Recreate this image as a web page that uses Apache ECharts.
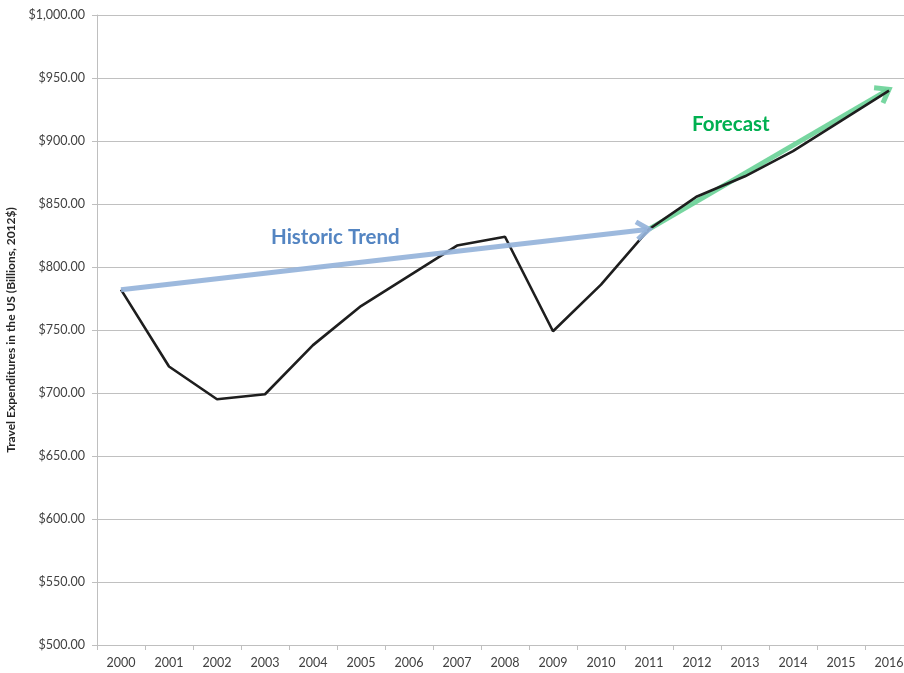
<!DOCTYPE html>
<html>
<head>
<meta charset="utf-8">
<title>Travel Expenditures in the US</title>
<script src="https://cdn.jsdelivr.net/npm/echarts@6/dist/echarts.min.js"></script>
<style>
  html, body { margin: 0; padding: 0; background: #ffffff; }
  #chart { width: 904px; height: 673px; }
</style>
</head>
<body>
<div id="chart"></div>
<script>
// Years on the category axis
const years = ['2000', '2001', '2002', '2003', '2004', '2005', '2006', '2007', '2008',
               '2009', '2010', '2011', '2012', '2013', '2014', '2015', '2016'];

// Travel expenditures, billions of 2012 dollars
const expenditures = [782, 721, 695, 699, 738, 769, 793, 817, 824,
                      749, 786, 830, 856, 872, 892, 916, 940];

// Trend arrows: start/end year and value
const historicTrendYears = ['2000', '2011'];
const historicTrendValues = [782, 830];
const forecastTrendYears = ['2011', '2016'];
const forecastTrendValues = [830, 941];

// Value axis range
const yMin = 500;
const yMax = 1000;
const yStep = 50;

const FONT = 'Lato, "Open Sans", sans-serif';

function money(v) {
  const parts = v.toFixed(2).split('.');
  parts[0] = parts[0].replace(/\B(?=(\d{3})+(?!\d))/g, ',');
  return '$' + parts.join('.');
}

function arrowData(ys, vs) {
  return [[years.indexOf(ys[0]), vs[0], years.indexOf(ys[1]), vs[1]]];
}

// Straight shaft with an open chevron head at the end point
function renderArrow(color) {
  return function (params, api) {
    const p0 = api.coord([api.value(0), api.value(1)]);
    const p1 = api.coord([api.value(2), api.value(3)]);
    const ang = Math.atan2(p1[1] - p0[1], p1[0] - p0[0]);
    const len = 15, spread = Math.PI / 5;
    const a = [p1[0] - len * Math.cos(ang - spread), p1[1] - len * Math.sin(ang - spread)];
    const b = [p1[0] - len * Math.cos(ang + spread), p1[1] - len * Math.sin(ang + spread)];
    const style = { stroke: color, lineWidth: 5, fill: null, lineCap: 'butt', lineJoin: 'miter' };
    return {
      type: 'group',
      children: [
        { type: 'line', shape: { x1: p0[0], y1: p0[1], x2: p1[0] - 2 * Math.cos(ang), y2: p1[1] - 2 * Math.sin(ang) }, style: style },
        { type: 'polyline', shape: { points: [a, p1, b] }, style: style }
      ]
    };
  };
}

const chart = echarts.init(document.getElementById('chart'), null, { renderer: 'canvas' });

chart.setOption({
  animation: false,
  backgroundColor: '#ffffff',
  // the plot runs a little past the right edge of the page
  grid: { left: 97, width: 816, top: 15, bottom: 28, containLabel: false, outerBoundsMode: 'none' },
  xAxis: {
    type: 'category',
    data: years,
    boundaryGap: true,
    axisLine: { lineStyle: { color: '#bfbfbf', width: 1 } },
    axisTick: { show: true, length: 5, lineStyle: { color: '#bfbfbf' } },
    axisLabel: { color: '#404040', fontFamily: FONT, fontSize: 12.5, margin: 11 },
    splitLine: { show: false }
  },
  yAxis: {
    type: 'value',
    min: yMin,
    max: yMax,
    interval: yStep,
    name: 'Travel Expenditures in the US (Billions, 2012$)',
    nameLocation: 'middle',
    nameGap: 73,
    nameRotate: 90,
    nameTextStyle: { color: '#262626', fontFamily: FONT, fontSize: 12, fontWeight: 'bold' },
    axisLine: { show: true, lineStyle: { color: '#bfbfbf', width: 1 } },
    axisTick: { show: true, length: 5, lineStyle: { color: '#bfbfbf' } },
    axisLabel: { color: '#404040', fontFamily: FONT, fontSize: 12.5, margin: 12, formatter: money },
    splitLine: { show: true, lineStyle: { color: '#c0c0c0', width: 1 } }
  },
  series: [
    {
      name: 'Forecast trend',
      type: 'custom',
      z: 1,
      data: arrowData(forecastTrendYears, forecastTrendValues),
      encode: { x: [0, 2], y: [1, 3] },
      renderItem: renderArrow('rgba(104, 210, 150, 0.9)'),
      silent: true
    },
    {
      name: 'Travel expenditures',
      type: 'line',
      z: 2,
      data: expenditures,
      symbol: 'none',
      smooth: false,
      lineStyle: { color: '#1e1e1e', width: 2.6 },
      silent: true
    },
    {
      name: 'Historic trend',
      type: 'custom',
      z: 3,
      data: arrowData(historicTrendYears, historicTrendValues),
      encode: { x: [0, 2], y: [1, 3] },
      renderItem: renderArrow('rgba(149, 179, 218, 0.92)'),
      silent: true
    }
  ],
  graphic: [
    {
      type: 'text',
      left: 271, top: 227,
      style: { text: 'Historic Trend', fill: '#5485c2', font: 'bold 20.5px ' + FONT }
    },
    {
      type: 'text',
      left: 692, top: 114,
      style: { text: 'Forecast', fill: '#00b050', font: 'bold 20.5px ' + FONT }
    }
  ]
});
</script>
</body>
</html>
